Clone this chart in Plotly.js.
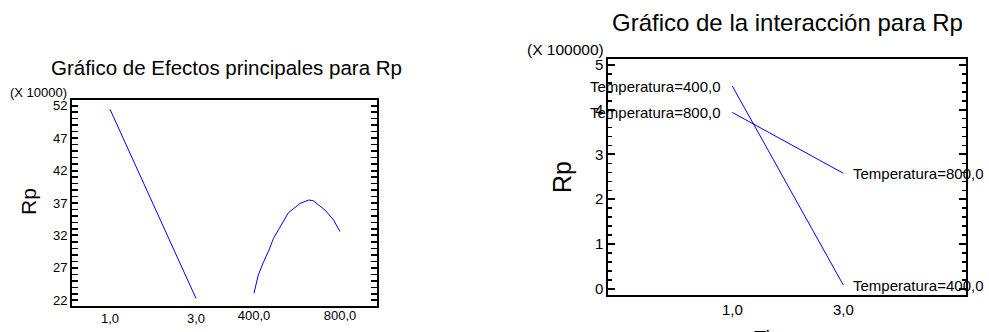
<!DOCTYPE html>
<html>
<head>
<meta charset="utf-8">
<script src="https://cdn.plot.ly/plotly-3.0.1.min.js"></script>
<style>html,body{margin:0;padding:0;background:#fff;}#chart{width:989px;height:332px;}</style>
</head>
<body>
<div id="chart"></div>
<script>
// ---- data ----
const tiempoLevels = [1, 2, 3];
const rpTiempo = [51.45, 36.8, 22.3];            // Rp (X 10000) main effect of Tiempo
const tempPoints = [400, 420, 445, 470, 490, 525, 560, 615, 655, 675, 730, 770, 800];
const rpTemp = [23.08, 25.9, 27.95, 29.76, 31.5, 33.6, 35.5, 36.95, 37.46, 37.36, 35.92, 34.38, 32.58];
const tiempoInter = [1, 3];
const rp400 = [4.53, 0.08];                      // Rp (X 100000), Temperatura=400,0
const rp800 = [3.94, 2.58];                      // Rp (X 100000), Temperatura=800,0
const tempLabels = ["400,0", "800,0"];
const tiempoTicks = [1, 3];
const tempTicks = [400, 800];

const W = 989, H = 332;
const px = v => v / W;
const py = v => 1 - v / H;
const font = "Liberation Sans, Arial, sans-serif";
const blue = "#0000ff";

const traces = [
  {x: tiempoLevels, y: rpTiempo, xaxis: "x", yaxis: "y", mode: "lines", line: {color: blue, width: 1}, hoverinfo: "skip"},
  {x: tempPoints, y: rpTemp, xaxis: "x2", yaxis: "y", mode: "lines", line: {color: blue, width: 1}, hoverinfo: "skip"},
  {x: tiempoInter, y: rp400, xaxis: "x3", yaxis: "y3", mode: "lines", line: {color: blue, width: 1}, hoverinfo: "skip"},
  {x: tiempoInter, y: rp800, xaxis: "x3", yaxis: "y3", mode: "lines", line: {color: blue, width: 1}, hoverinfo: "skip"}
];

const baseX = {showgrid: false, zeroline: false, ticks: "", fixedrange: true};
const baseY = {showgrid: false, zeroline: false, showline: true, linewidth: 2, linecolor: "#000",
  mirror: "allticks", ticks: "inside", tickcolor: "#000", fixedrange: true};

const layout = {
  width: W, height: H,
  margin: {l: 0, r: 0, t: 0, b: 0},
  paper_bgcolor: "#fff", plot_bgcolor: "#fff",
  showlegend: false,
  separators: ",.",
  font: {family: font, color: "#000"},
  xaxis: Object.assign({}, baseX, {
    domain: [px(72), px(377)], range: [0.116, 7.21], anchor: "y",
    tickvals: tiempoTicks, tickformat: ".1f", tickfont: {size: 13},
    showline: true, linewidth: 2, linecolor: "#000", mirror: true
  }),
  xaxis2: Object.assign({}, baseX, {
    overlaying: "x", anchor: "y", range: [-446, 972],
    tickvals: tempTicks, tickformat: ".1f", tickfont: {size: 13}, showline: false
  }),
  yaxis: Object.assign({}, baseY, {
    domain: [py(305.7), py(100)], range: [21.17, 52.88], anchor: "x",
    tick0: 22, dtick: 5, ticklen: 6, tickwidth: 2, tickfont: {size: 13},
    minor: {dtick: 1, ticks: "inside", ticklen: 3, tickwidth: 1.5, tickcolor: "#000"}
  }),
  xaxis3: Object.assign({}, baseX, {
    domain: [px(608.3), px(966)], range: [-1.234, 5.21], anchor: "y3",
    tickvals: tiempoTicks, tickformat: ".1f", tickfont: {size: 15},
    showline: true, linewidth: 2, linecolor: "#000", mirror: true
  }),
  yaxis3: Object.assign({}, baseY, {
    domain: [py(295), py(59.3)], range: [-0.141, 5.128], anchor: "x3",
    tick0: 0, dtick: 1, ticklen: 7, tickwidth: 2, tickfont: {size: 15},
    minor: {dtick: 0.2, ticks: "inside", ticklen: 4, tickwidth: 1.5, tickcolor: "#000"}
  }),
  annotations: [
    {text: "Gráfico de Efectos principales para Rp", xref: "paper", yref: "paper", x: px(226), y: py(67),
     xanchor: "center", yanchor: "middle", showarrow: false, font: {size: 20.5}},
    {text: "Gráfico de la interacción para Rp", xref: "paper", yref: "paper", x: px(787), y: py(23),
     xanchor: "center", yanchor: "middle", showarrow: false, font: {size: 24}},
    {text: "(X 10000)", xref: "paper", yref: "paper", x: px(8), y: py(92), xanchor: "left", yanchor: "middle",
     showarrow: false, font: {size: 13}},
    {text: "(X 100000)", xref: "paper", yref: "paper", x: px(525), y: py(49), xanchor: "left", yanchor: "middle",
     showarrow: false, font: {size: 15.5}},
    {text: "Rp", xref: "paper", yref: "paper", x: px(28), y: py(202), textangle: -90, xanchor: "center", yanchor: "middle",
     showarrow: false, font: {size: 21}},
    {text: "Rp", xref: "paper", yref: "paper", x: px(562), y: py(177), textangle: -90, xanchor: "center", yanchor: "middle",
     showarrow: false, font: {size: 25}},
    {text: "Tiempo", xref: "paper", yref: "paper", x: px(787), y: py(325), xanchor: "center", yanchor: "top",
     showarrow: false, font: {size: 20}},
    // series labels for the interaction plot
    {text: "Temperatura=" + tempLabels[0], xref: "x3", yref: "y3", x: tiempoInter[0], y: rp400[0],
     xanchor: "right", yanchor: "middle", xshift: -9, showarrow: false, font: {size: 15}},
    {text: "Temperatura=" + tempLabels[1], xref: "x3", yref: "y3", x: tiempoInter[0], y: rp800[0],
     xanchor: "right", yanchor: "middle", xshift: -9, showarrow: false, font: {size: 15}},
    {text: "Temperatura=" + tempLabels[1], xref: "x3", yref: "y3", x: tiempoInter[1], y: rp800[1],
     xanchor: "left", yanchor: "middle", xshift: 8, showarrow: false, font: {size: 15}},
    {text: "Temperatura=" + tempLabels[0], xref: "x3", yref: "y3", x: tiempoInter[1], y: rp400[1],
     xanchor: "left", yanchor: "middle", xshift: 8, showarrow: false, font: {size: 15}}
  ]
};

Plotly.newPlot("chart", traces, layout, {staticPlot: true, displayModeBar: false});
</script>
</body>
</html>
